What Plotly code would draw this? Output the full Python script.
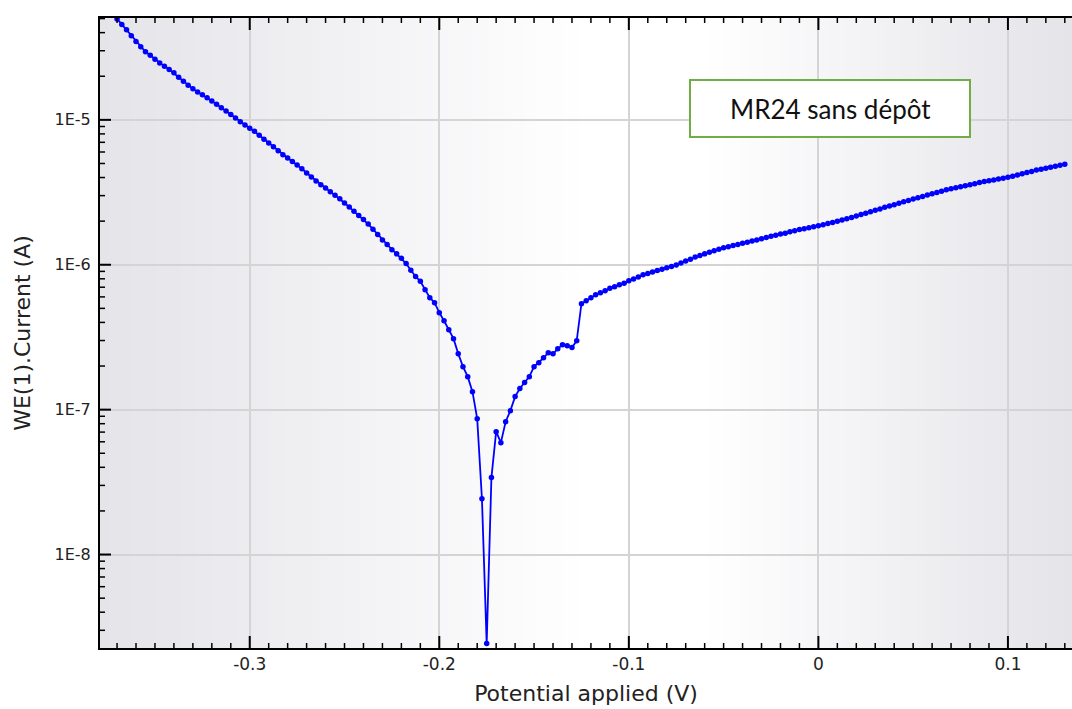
import plotly.graph_objects as go

# Applied potential (V) and measured working-electrode current (A)
potential_V = [
    -0.3700, -0.3675, -0.3650, -0.3625, -0.3600, -0.3575, -0.3550, -0.3525, -0.3500, -0.3475,
    -0.3450, -0.3425, -0.3400, -0.3375, -0.3350, -0.3325, -0.3300, -0.3275, -0.3250, -0.3225,
    -0.3200, -0.3175, -0.3150, -0.3125, -0.3100, -0.3075, -0.3050, -0.3025, -0.3000, -0.2975,
    -0.2950, -0.2925, -0.2900, -0.2875, -0.2850, -0.2825, -0.2800, -0.2775, -0.2750, -0.2725,
    -0.2700, -0.2675, -0.2650, -0.2625, -0.2600, -0.2575, -0.2550, -0.2525, -0.2500, -0.2475,
    -0.2450, -0.2425, -0.2400, -0.2375, -0.2350, -0.2325, -0.2300, -0.2275, -0.2250, -0.2225,
    -0.2200, -0.2175, -0.2150, -0.2125, -0.2100, -0.2075, -0.2050, -0.2025, -0.2000, -0.1975,
    -0.1950, -0.1925, -0.1900, -0.1875, -0.1850, -0.1825, -0.1800, -0.1775, -0.1750, -0.1725,
    -0.1700, -0.1675, -0.1650, -0.1625, -0.1600, -0.1575, -0.1550, -0.1525, -0.1500, -0.1475,
    -0.1450, -0.1425, -0.1400, -0.1375, -0.1350, -0.1325, -0.1300, -0.1275, -0.1250, -0.1225,
    -0.1200, -0.1175, -0.1150, -0.1125, -0.1100, -0.1075, -0.1050, -0.1025, -0.1000, -0.0975,
    -0.0950, -0.0925, -0.0900, -0.0875, -0.0850, -0.0825, -0.0800, -0.0775, -0.0750, -0.0725,
    -0.0700, -0.0675, -0.0650, -0.0625, -0.0600, -0.0575, -0.0550, -0.0525, -0.0500, -0.0475,
    -0.0450, -0.0425, -0.0400, -0.0375, -0.0350, -0.0325, -0.0300, -0.0275, -0.0250, -0.0225,
    -0.0200, -0.0175, -0.0150, -0.0125, -0.0100, -0.0075, -0.0050, -0.0025, 0.0000, 0.0025,
    0.0050, 0.0075, 0.0100, 0.0125, 0.0150, 0.0175, 0.0200, 0.0225, 0.0250, 0.0275,
    0.0300, 0.0325, 0.0350, 0.0375, 0.0400, 0.0425, 0.0450, 0.0475, 0.0500, 0.0525,
    0.0550, 0.0575, 0.0600, 0.0625, 0.0650, 0.0675, 0.0700, 0.0725, 0.0750, 0.0775,
    0.0800, 0.0825, 0.0850, 0.0875, 0.0900, 0.0925, 0.0950, 0.0975, 0.1000, 0.1025,
    0.1050, 0.1075, 0.1100, 0.1125, 0.1150, 0.1175, 0.1200, 0.1225, 0.1250, 0.1275,
    0.1300,
]

current_A = [
    4.97e-5, 4.55e-5, 4.18e-5, 3.81e-5, 3.48e-5, 3.19e-5, 2.95e-5, 2.79e-5, 2.62e-5, 2.47e-5,
    2.34e-5, 2.23e-5, 2.11e-5, 1.97e-5, 1.85e-5, 1.73e-5, 1.64e-5, 1.56e-5, 1.49e-5, 1.42e-5,
    1.35e-5, 1.28e-5, 1.21e-5, 1.15e-5, 1.09e-5, 1.03e-5, 9.72e-6, 9.21e-6, 8.75e-6, 8.33e-6,
    7.83e-6, 7.36e-6, 6.92e-6, 6.51e-6, 6.13e-6, 5.75e-6, 5.45e-6, 5.16e-6, 4.89e-6, 4.60e-6,
    4.30e-6, 4.04e-6, 3.79e-6, 3.57e-6, 3.38e-6, 3.19e-6, 3.02e-6, 2.85e-6, 2.67e-6, 2.50e-6,
    2.34e-6, 2.19e-6, 2.05e-6, 1.91e-6, 1.76e-6, 1.62e-6, 1.48e-6, 1.38e-6, 1.27e-6, 1.19e-6,
    1.11e-6, 1.02e-6, 9.15e-7, 8.30e-7, 7.69e-7, 6.72e-7, 5.92e-7, 5.47e-7, 4.67e-7, 4.11e-7,
    3.56e-7, 3.09e-7, 2.43e-7, 1.98e-7, 1.69e-7, 1.33e-7, 8.67e-8, 2.43e-8, 2.43e-9, 3.40e-8,
    7.05e-8, 5.92e-8, 8.26e-8, 9.84e-8, 1.23e-7, 1.40e-7, 1.54e-7, 1.69e-7, 1.98e-7, 2.11e-7,
    2.28e-7, 2.47e-7, 2.43e-7, 2.63e-7, 2.81e-7, 2.76e-7, 2.68e-7, 2.99e-7, 5.38e-7, 5.64e-7,
    5.92e-7, 6.21e-7, 6.41e-7, 6.62e-7, 6.89e-7, 7.05e-7, 7.28e-7, 7.46e-7, 7.76e-7, 7.97e-7,
    8.24e-7, 8.52e-7, 8.71e-7, 8.91e-7, 9.11e-7, 9.31e-7, 9.52e-7, 9.73e-7, 9.95e-7, 1.03e-6,
    1.06e-6, 1.09e-6, 1.13e-6, 1.16e-6, 1.19e-6, 1.22e-6, 1.25e-6, 1.28e-6, 1.31e-6, 1.33e-6,
    1.36e-6, 1.38e-6, 1.41e-6, 1.43e-6, 1.46e-6, 1.48e-6, 1.51e-6, 1.54e-6, 1.57e-6, 1.60e-6,
    1.63e-6, 1.65e-6, 1.69e-6, 1.72e-6, 1.75e-6, 1.77e-6, 1.80e-6, 1.83e-6, 1.86e-6, 1.89e-6,
    1.93e-6, 1.96e-6, 2.00e-6, 2.04e-6, 2.08e-6, 2.12e-6, 2.17e-6, 2.22e-6, 2.27e-6, 2.32e-6,
    2.38e-6, 2.43e-6, 2.49e-6, 2.54e-6, 2.60e-6, 2.66e-6, 2.72e-6, 2.78e-6, 2.84e-6, 2.90e-6,
    2.96e-6, 3.03e-6, 3.09e-6, 3.15e-6, 3.22e-6, 3.29e-6, 3.35e-6, 3.40e-6, 3.46e-6, 3.51e-6,
    3.57e-6, 3.62e-6, 3.69e-6, 3.75e-6, 3.80e-6, 3.85e-6, 3.91e-6, 3.96e-6, 4.01e-6, 4.08e-6,
    4.16e-6, 4.24e-6, 4.33e-6, 4.41e-6, 4.50e-6, 4.57e-6, 4.64e-6, 4.71e-6, 4.79e-6, 4.86e-6,
    4.93e-6,
]

x_ticks = [-0.3, -0.2, -0.1, 0.0, 0.1]
x_tick_labels = ["-0.3", "-0.2", "-0.1", "0", "0.1"]
x_minor_ticks = [k / 100 for k in range(-37, 14) if k % 10 != 0]
y_ticks = [1e-8, 1e-7, 1e-6, 1e-5]
y_tick_labels = ["1E-8", "1E-7", "1E-6", "1E-5"]
y_minor_ticks = [m * 10.0 ** e for e in range(-9, -4) for m in range(2, 10)]

series_label = "MR24 sans dépôt"

W, H = 1072, 709
M_L, M_R, M_T, M_B = 100, 0, 18, 61
PLOT_W, PLOT_H = W - M_L - M_R, H - M_T - M_B
X_RANGE = [-0.379, 0.1338]
Y_RANGE = [-8.645, -4.297]
TEXT = "#222222"

fig = go.Figure()
fig.add_trace(go.Scatter(
    x=potential_V, y=current_A, mode="lines+markers",
    line=dict(color="#0000ff", width=1.8),
    marker=dict(color="#0000ff", size=5.5),
    showlegend=False, hoverinfo="skip",
))

shapes = []

# Horizontal grey-white-grey shading of the plotting area
n_strips = 120
for k in range(n_strips):
    t0, t1 = k / n_strips, (k + 1) / n_strips
    t = (t0 + t1) / 2
    if t < 0.50:
        d = (0.50 - t) / 0.50
    elif t > 0.62:
        d = (t - 0.62) / 0.38
    else:
        d = 0.0
    r = round(255 - 27 * d)
    g = round(255 - 27 * d)
    b = round(255 - 22 * d)
    shapes.append(dict(
        type="rect", xref="x domain", yref="y domain",
        x0=t0, x1=t1 + 0.002, y0=0, y1=1,
        fillcolor=f"rgb({r},{g},{b})", line=dict(width=0), layer="below",
    ))


# Inward tick marks (bottom and top for x, left for y)
def x_tick(v, length_px, width):
    for base, sign in ((0.0, 1), (1.0, -1)):
        shapes.append(dict(
            type="line", xref="x", yref="y domain",
            x0=v, x1=v, y0=base, y1=base + sign * length_px / PLOT_H,
            line=dict(color="black", width=width), layer="above",
        ))


def y_tick(v, length_px, width):
    shapes.append(dict(
        type="line", xref="x domain", yref="y",
        x0=0.0, x1=length_px / PLOT_W, y0=v, y1=v,
        line=dict(color="black", width=width), layer="above",
    ))


for v in x_ticks:
    x_tick(v, 12, 2)
for v in x_minor_ticks:
    x_tick(v, 5, 1.5)
for v in y_ticks:
    y_tick(v, 11, 2)
for v in y_minor_ticks:
    if 10 ** Y_RANGE[0] < v < 10 ** Y_RANGE[1]:
        y_tick(v, 5, 1.5)

# Label box
shapes.append(dict(
    type="rect", xref="paper", yref="paper",
    x0=(690 - M_L) / PLOT_W, x1=(970 - M_L) / PLOT_W,
    y0=(H - M_B - 137) / PLOT_H, y1=(H - M_B - 80) / PLOT_H,
    fillcolor="white", line=dict(color="#70ad47", width=2), layer="above",
))

fig.update_layout(
    width=W, height=H,
    margin=dict(l=M_L, r=M_R, t=M_T, b=M_B),
    paper_bgcolor="white", plot_bgcolor="white",
    shapes=shapes,
    font=dict(family="DejaVu Sans", color=TEXT),
    annotations=[dict(
        text=series_label, xref="paper", yref="paper",
        x=(830 - M_L) / PLOT_W, y=(H - M_B - 109) / PLOT_H,
        xanchor="center", yanchor="middle", showarrow=False,
        font=dict(family="Lato", size=26, color="#111111"),
    )],
    xaxis=dict(
        range=X_RANGE,
        tickmode="array", tickvals=x_ticks, ticktext=x_tick_labels,
        ticks="", tickfont=dict(size=17, family="DejaVu Sans", color=TEXT),
        showline=True, linecolor="black", linewidth=2, mirror=True,
        showgrid=True, gridcolor="#d4d4d4", gridwidth=2, zeroline=False,
        title=dict(text="Potential applied (V)", standoff=12,
                   font=dict(size=22, family="DejaVu Sans", color=TEXT)),
    ),
    yaxis=dict(
        type="log", range=Y_RANGE,
        tickmode="array", tickvals=y_ticks, ticktext=y_tick_labels,
        ticks="", ticklabelstandoff=4,
        tickfont=dict(size=16, family="DejaVu Sans", color=TEXT),
        showline=True, linecolor="black", linewidth=2, mirror=False,
        showgrid=True, gridcolor="#d4d4d4", gridwidth=2, zeroline=False,
        title=dict(text="WE(1).Current (A)", standoff=18,
                   font=dict(size=22, family="DejaVu Sans", color=TEXT)),
    ),
)

fig.write_html("out.html")
